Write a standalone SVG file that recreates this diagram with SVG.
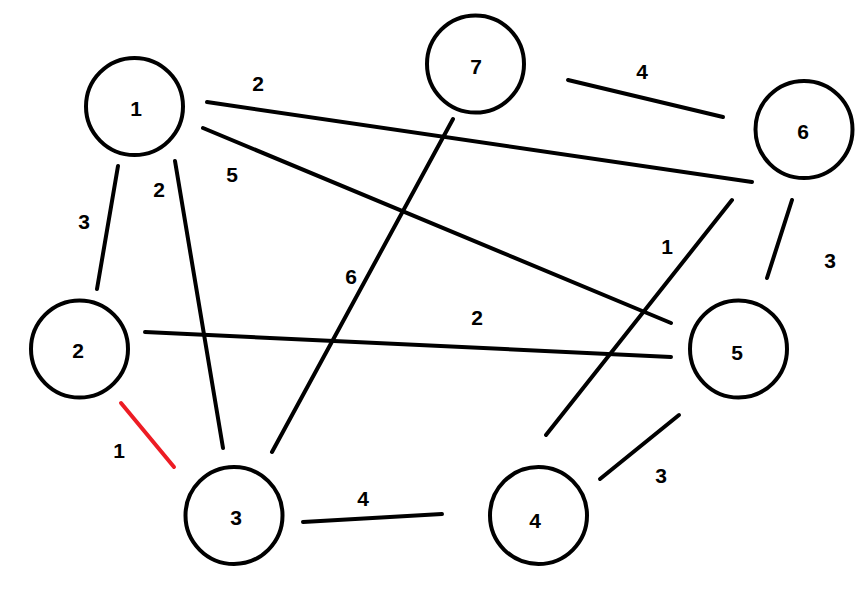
<svg xmlns="http://www.w3.org/2000/svg" width="863" height="602" viewBox="0 0 863 602">
<style>
.node circle{fill:none;stroke:#000;stroke-width:4}
text{font-family:"Liberation Sans",Arial,sans-serif;font-size:21px;font-weight:bold;fill:#000;text-anchor:middle}
.edges line{stroke:#000;stroke-width:4;stroke-linecap:round}
.edges line.red{stroke:#ed1c24}
</style>
<rect width="863" height="602" fill="#fff"/>
<g class="edges" id="edges">
<line x1="207" y1="102" x2="752" y2="182"/>
<line x1="203" y1="128" x2="671" y2="323"/>
<line x1="118" y1="166" x2="97" y2="289"/>
<line x1="175" y1="161" x2="223" y2="448"/>
<line x1="568" y1="80" x2="723" y2="117"/>
<line x1="453" y1="119" x2="272" y2="452"/>
<line x1="732" y1="200" x2="546" y2="435"/>
<line x1="792" y1="200" x2="767" y2="278"/>
<line x1="145" y1="332" x2="671" y2="357"/>
<line class="red" x1="121" y1="403" x2="174" y2="467"/>
<line x1="303" y1="522" x2="442" y2="514"/>
<line x1="679" y1="415" x2="600" y2="479"/>
</g>
<g id="edge-labels">
<text x="258" y="91">2</text>
<text x="232" y="182">5</text>
<text x="159" y="197">2</text>
<text x="84" y="229">3</text>
<text x="642" y="79">4</text>
<text x="830" y="268">3</text>
<text x="667" y="254">1</text>
<text x="351" y="284">6</text>
<text x="477" y="325">2</text>
<text x="119" y="458">1</text>
<text x="363" y="506">4</text>
<text x="661" y="483">3</text>
</g>
<g class="node" id="node1"><circle cx="134.5" cy="106.5" r="48.5"/><text x="136" y="116">1</text></g>
<g class="node" id="node7"><circle cx="475.5" cy="64" r="48.5"/><text x="476" y="74">7</text></g>
<g class="node" id="node6"><circle cx="804" cy="129.5" r="48.5"/><text x="803" y="139">6</text></g>
<g class="node" id="node2"><circle cx="79.5" cy="349" r="48.5"/><text x="78" y="358">2</text></g>
<g class="node" id="node5"><circle cx="738.5" cy="349" r="48.5"/><text x="737" y="360">5</text></g>
<g class="node" id="node3"><circle cx="234" cy="515.5" r="48.5"/><text x="236" y="525">3</text></g>
<g class="node" id="node4"><circle cx="538.5" cy="515.5" r="48.5"/><text x="535" y="528">4</text></g>
</svg>
